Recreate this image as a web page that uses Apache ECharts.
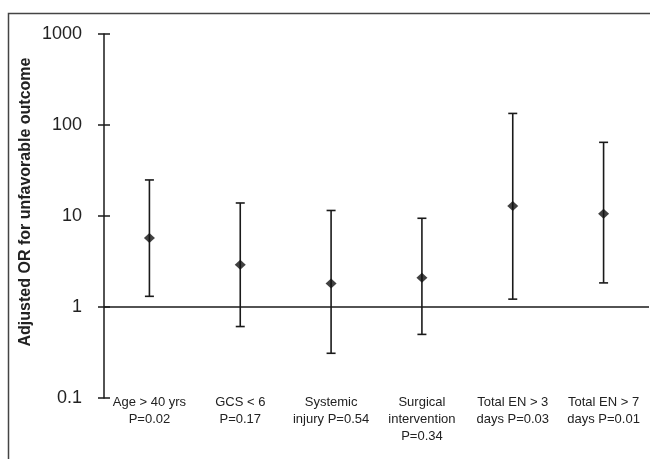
<!DOCTYPE html>
<html>
<head>
<meta charset="utf-8">
<script src="https://cdn.jsdelivr.net/npm/echarts@6/dist/echarts.min.js"></script>
<style>html,body{margin:0;padding:0;background:#fff;}#c{width:650px;height:459px;}</style>
</head>
<body>
<div id="c"></div>
<script>
const categories = [
  "Age > 40 yrs\nP=0.02",
  "GCS < 6\nP=0.17",
  "Systemic\ninjury P=0.54",
  "Surgical\nintervention\nP=0.34",
  "Total EN > 3\ndays P=0.03",
  "Total EN > 7\ndays P=0.01"
];
const oddsRatio = [5.73, 2.92, 1.81, 2.10, 12.9, 10.6];
const lowerCI   = [1.31, 0.61, 0.31, 0.50, 1.22, 1.84];
const upperCI   = [24.9, 13.9, 11.5, 9.44, 134, 64.5];
const yTicks = [0.1, 1, 10, 100, 1000];
const yTitle = 'Adjusted OR for unfavorable outcome';

const chart = echarts.init(document.getElementById('c'), null, {renderer: 'canvas'});
const ink = '#1a1a1a';
const font = 'Liberation Sans, Arial, sans-serif';

chart.setOption({
  animation: false,
  backgroundColor: '#fff',
  graphic: [{
    type: 'rect',
    shape: {x: 8.5, y: 13.5, width: 700, height: 500},
    style: {fill: null, stroke: '#444', lineWidth: 1.5},
    silent: true
  }, {
    type: 'text',
    x: 26, y: 202,
    rotation: Math.PI / 2,
    style: {
      text: yTitle, fill: '#222',
      font: 'bold 16px ' + font,
      textAlign: 'center', textVerticalAlign: 'middle'
    },
    silent: true
  }],
  grid: {left: 104, right: 1, top: 34, bottom: 61, containLabel: false},
  xAxis: {
    type: 'category',
    data: categories,
    boundaryGap: true,
    axisLine: {show: false},
    axisTick: {show: false},
    axisLabel: {
      interval: 0, margin: -4, color: '#222',
      fontFamily: font, fontSize: 13, lineHeight: 17, align: 'center'
    },
    splitLine: {show: false}
  },
  yAxis: [{
    type: 'log', logBase: 10, min: 0.1, max: 1000, interval: 1,
    axisLine: {show: true, lineStyle: {color: ink, width: 1.5}},
    axisTick: {show: true, inside: false, length: 6, lineStyle: {color: ink, width: 1.5}},
    axisLabel: {
      color: '#222', fontFamily: font, fontSize: 18, margin: 22,
      formatter: function (v) {
        let best = yTicks[0];
        yTicks.forEach(t => { if (Math.abs(Math.log10(t) - Math.log10(v)) < Math.abs(Math.log10(best) - Math.log10(v))) best = t; });
        return String(best);
      }
    },
    splitLine: {show: false}
  }, {
    type: 'log', logBase: 10, min: 0.1, max: 1000, interval: 1,
    position: 'left', offset: 0,
    axisLine: {show: false},
    axisTick: {show: true, inside: true, length: 6, lineStyle: {color: ink, width: 1.5}},
    axisLabel: {show: false},
    splitLine: {show: false}
  }],
  series: [{
    type: 'custom',
    data: categories.map((c, i) => [i, lowerCI[i], upperCI[i]]),
    renderItem: function (params, api) {
      const lo = api.coord([api.value(0), api.value(1)]);
      const hi = api.coord([api.value(0), api.value(2)]);
      const cap = 4.5;
      const st = {stroke: ink, lineWidth: 1.6};
      return {
        type: 'group',
        children: [
          {type: 'line', shape: {x1: lo[0], y1: lo[1], x2: hi[0], y2: hi[1]}, style: st},
          {type: 'line', shape: {x1: hi[0] - cap, y1: hi[1], x2: hi[0] + cap, y2: hi[1]}, style: st},
          {type: 'line', shape: {x1: lo[0] - cap, y1: lo[1], x2: lo[0] + cap, y2: lo[1]}, style: st}
        ]
      };
    },
    markLine: {
      silent: true, symbol: 'none', label: {show: false},
      lineStyle: {color: ink, width: 1.5, type: 'solid'},
      data: [{yAxis: 1}]
    },
    z: 2
  }, {
    type: 'scatter',
    data: oddsRatio.map((v, i) => [i, v]),
    symbol: 'diamond',
    symbolSize: [11, 10],
    itemStyle: {color: '#111'},
    z: 3
  }]
});
</script>
</body>
</html>
